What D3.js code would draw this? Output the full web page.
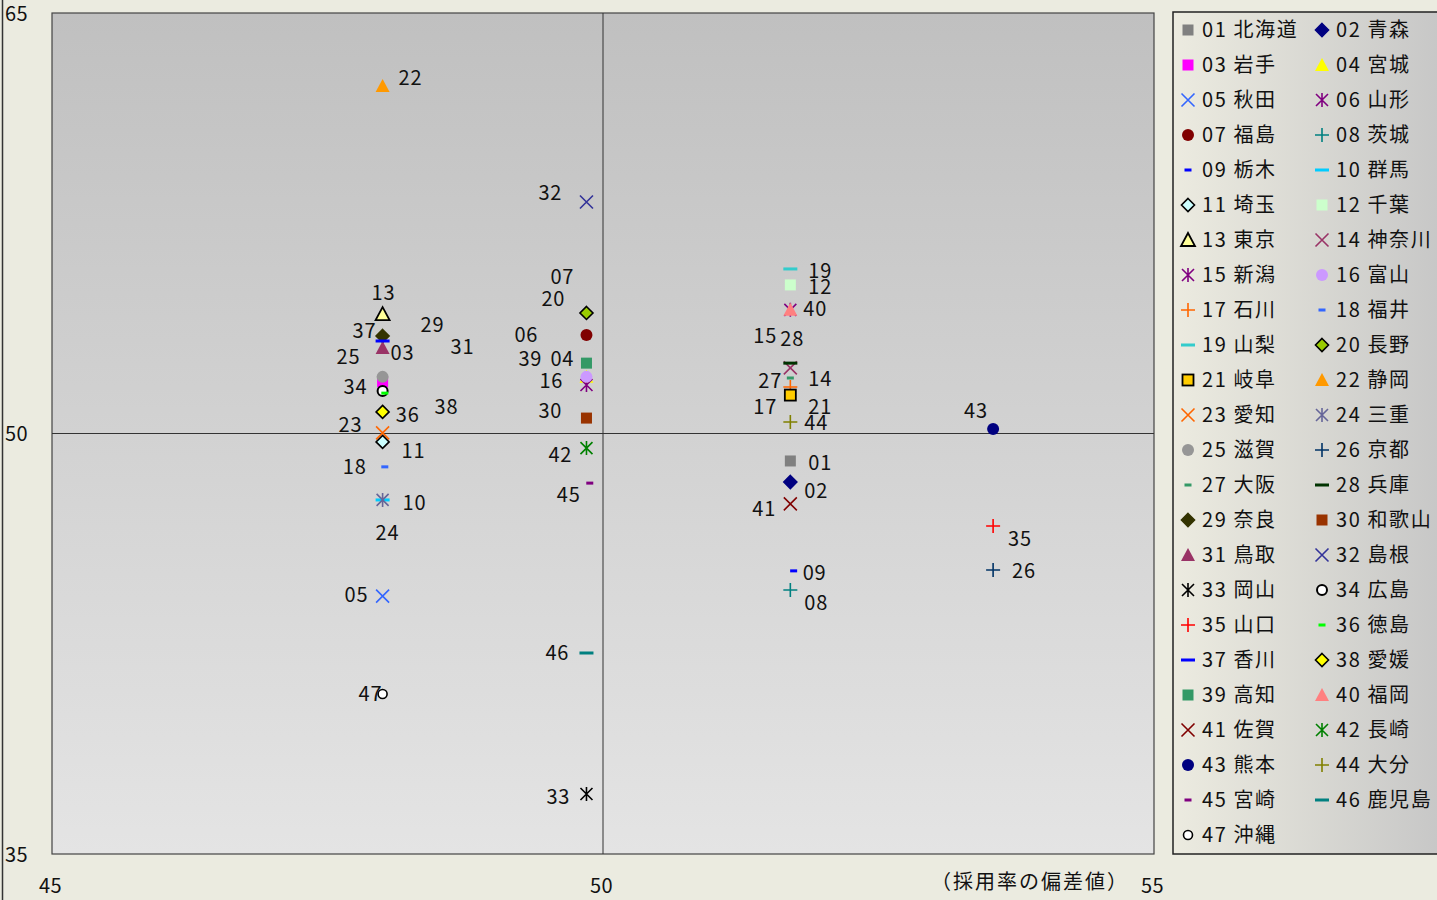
<!DOCTYPE html>
<html><head><meta charset="utf-8">
<script src="https://cdn.jsdelivr.net/npm/d3@7"></script>
<style>
html,body{margin:0;padding:0;background:#ebebe0;}
svg{display:block;font-family:"Noto Sans CJK JP","Noto Sans",sans-serif;}
</style></head>
<body>
<svg id="chart" width="1437" height="900"></svg>
<script>
// ---- data ----
const prefCodes = ["01","02","03","04","05","06","07","08","09","10","11","12","13","14","15","16","17","18","19","20","21","22","23","24","25","26","27","28","29","30","31","32","33","34","35","36","37","38","39","40","41","42","43","44","45","46","47"];
const prefNames = ["北海道","青森","岩手","宮城","秋田","山形","福島","茨城","栃木","群馬","埼玉","千葉","東京","神奈川","新潟","富山","石川","福井","山梨","長野","岐阜","静岡","愛知","三重","滋賀","京都","大阪","兵庫","奈良","和歌山","鳥取","島根","岡山","広島","山口","徳島","香川","愛媛","高知","福岡","佐賀","長崎","熊本","大分","宮崎","鹿児島","沖縄"];
const xValues = [51.70,51.70,48.00,49.85,48.00,49.85,49.85,51.70,51.73,48.00,48.00,51.70,48.00,51.70,51.70,49.85,51.70,48.02,51.70,49.85,51.70,48.00,48.00,48.00,48.00,53.54,51.70,51.70,48.00,49.85,48.00,49.85,49.85,48.00,53.54,48.02,48.00,48.00,49.85,51.70,51.70,49.85,53.54,51.70,49.88,49.85,48.00];
const yValues = [49.02,48.27,51.84,52.02,44.20,51.73,53.51,44.42,45.10,47.63,49.70,55.30,54.26,52.34,54.41,52.02,51.66,48.81,55.87,54.30,51.37,62.40,50.02,47.63,52.02,45.13,51.98,52.51,53.48,50.55,53.05,58.26,37.14,51.52,46.70,51.44,53.30,50.77,52.51,54.41,47.49,49.48,50.16,50.41,48.23,42.17,40.71];
const xTicks = [45,50,55];
const yTicks = [35,50,65];
const xTitle = "（採用率の偏差値）";

// ---- styles (marker type, fill, stroke) ----
const markerStyles = [
 ["square","#808080",null],["diamond","#000080","#000080"],["square","#ff00ff",null],["triangle","#ffff00",null],
 ["x",null,"#3366ff"],["star",null,"#800080"],["circle","#800000",null],["plus",null,"#008080"],
 ["dash","#0000ff",null],["longdash","#00ccff",null],["diamond","#ccffff","#000"],["square","#ccffcc",null],
 ["triangle","#ffff99","#000"],["x",null,"#993366"],["star",null,"#800080"],["circle","#cc99ff",null],
 ["plus",null,"#ff6600"],["dash","#3366ff",null],["longdash","#33cccc",null],["diamond","#99cc00","#000"],
 ["square","#ffcc00","#000"],["triangle","#ff9900",null],["x",null,"#ff6600"],["star",null,"#666699"],
 ["circle","#969696",null],["plus",null,"#003366"],["dash","#339966",null],["longdash","#003300",null],
 ["diamond","#333300","#333300"],["square","#993300",null],["triangle","#993366",null],["x",null,"#333399"],
 ["star",null,"#000000"],["circle","#ffffff","#000"],["plus",null,"#ff0000"],["dash","#00ff00",null],
 ["longdash","#0000ff",null],["diamond","#ffff00","#000"],["square","#339966",null],["triangle","#ff8080",null],
 ["x",null,"#800000"],["star",null,"#008000"],["circle","#000080",null],["plus",null,"#808000"],
 ["dash","#800080",null],["longdash","#008080",null],["smallcircle","#ffffff","#000"]
];
// label offsets: [dx to text left, dy to text centre]
const labelOffsets = [
 [18,2],[14,9],[8,-29],[-36,-18],[-38,-1],[-72,-50],[-36,-58],[14,13],[9,2],[20,3],
 [19,9],[18,2],[-11,-21],[18,11],[-37,26],[-47,4],[-37,20],[-42,0],[18,2],[-45,-14],
 [18,12],[16,-8],[-44,-8],[-7,33],[-46,-20],[19,1],[-32,3],[-10,-24],[38,-11],[-48,-7],
 [68,-1],[-48,-9],[-40,3],[-39,-4],[15,13],[11,22],[-30,-10],[52,-5],[-68,-4],[13,-1],
 [-38,5],[-38,7],[-29,-18],[14,1],[-33,12],[-41,0],[-24,0]
];

const svg = d3.select("#chart");
const M = {left:52, right:1154, top:13, bottom:854};
const x = d3.scaleLinear().domain([45,55]).range([M.left,M.right]);
const y = d3.scaleLinear().domain([35,65]).range([M.bottom,M.top]);

const defs = svg.append("defs");
const pg = defs.append("linearGradient").attr("id","plotbg").attr("x1",0).attr("y1",0).attr("x2",0).attr("y2",1);
pg.append("stop").attr("offset","0%").attr("stop-color","#c0c0c0");
pg.append("stop").attr("offset","100%").attr("stop-color","#e4e4e4");
const lg = defs.append("linearGradient").attr("id","legbg").attr("x1",0).attr("y1",0).attr("x2",1).attr("y2",0);
lg.append("stop").attr("offset","0%").attr("stop-color","#ecebe0");
lg.append("stop").attr("offset","100%").attr("stop-color","#c6c6c6");

// outer border left
svg.append("line").attr("x1",2.5).attr("x2",2.5).attr("y1",0).attr("y2",900).attr("stroke","#333").attr("stroke-width",1.5);

// plot area
svg.append("rect").attr("x",M.left).attr("y",M.top).attr("width",M.right-M.left).attr("height",M.bottom-M.top)
  .attr("fill","url(#plotbg)").attr("stroke","#444").attr("stroke-width",1.2);

// crossing lines at 50
svg.append("line").attr("x1",x(50)).attr("x2",x(50)).attr("y1",M.top).attr("y2",M.bottom).attr("stroke","#333").attr("stroke-width",1);
svg.append("line").attr("x1",M.left).attr("x2",M.right).attr("y1",y(50)).attr("y2",y(50)).attr("stroke","#333").attr("stroke-width",1);

// axes
const xAxis = svg.append("g").attr("transform",`translate(0,${M.bottom})`)
  .call(d3.axisBottom(x).tickValues(xTicks).tickSize(0).tickPadding(0));
xAxis.select(".domain").remove();
xAxis.selectAll("text").attr("font-size",20).attr("fill","#111").attr("x",-2).attr("y",32).attr("dy","0.35em")
  .attr("letter-spacing",0.5).attr("font-family","'Noto Sans CJK JP',sans-serif");
const yAxis = svg.append("g").attr("transform",`translate(${M.left},0)`)
  .call(d3.axisLeft(y).tickValues(yTicks).tickSize(0));
yAxis.select(".domain").remove();
yAxis.selectAll("text").attr("font-size",20).attr("fill","#111").attr("text-anchor","start").attr("x",5-M.left).attr("dy","0.35em")
  .attr("letter-spacing",0.5).attr("font-family","'Noto Sans CJK JP',sans-serif");

svg.append("text").attr("x",1030).attr("y",882).attr("dy","0.35em").attr("text-anchor","middle")
  .attr("font-size",20).attr("letter-spacing",2).attr("fill","#111").text(xTitle);

function drawMarker(g, st){
  const [type, fill, stroke] = st;
  if(type==="square"){
    g.append("rect").attr("x",-5.5).attr("y",-5.5).attr("width",11).attr("height",11).attr("fill",fill)
     .attr("stroke",stroke||"none").attr("stroke-width",stroke?1.8:0);
  } else if(type==="diamond"){
    g.append("path").attr("d","M0,-6.5L6.5,0L0,6.5L-6.5,0Z").attr("fill",fill).attr("stroke",stroke).attr("stroke-width",1.6);
  } else if(type==="triangle"){
    g.append("path").attr("d","M0,-7L7,6L-7,6Z").attr("fill",fill).attr("stroke",stroke||"none").attr("stroke-width",stroke?1.8:0);
  } else if(type==="circle"){
    if(stroke) g.append("circle").attr("r",5).attr("fill",fill).attr("stroke",stroke).attr("stroke-width",2);
    else g.append("circle").attr("r",6).attr("fill",fill);
  } else if(type==="smallcircle"){
    g.append("circle").attr("r",4.5).attr("fill",fill).attr("stroke",stroke).attr("stroke-width",1.6);
  } else if(type==="x"){
    g.append("path").attr("d","M-6.5,-6.5L6.5,6.5M-6.5,6.5L6.5,-6.5").attr("stroke",stroke).attr("stroke-width",1.6).attr("fill","none");
  } else if(type==="star"){
    g.append("path").attr("d","M-6,-6L6,6M-6,6L6,-6M0,-7L0,7").attr("stroke",stroke).attr("stroke-width",1.6).attr("fill","none");
  } else if(type==="plus"){
    g.append("path").attr("d","M-7,0L7,0M0,-7L0,7").attr("stroke",stroke).attr("stroke-width",1.6).attr("fill","none");
  } else if(type==="dash"){
    g.append("rect").attr("x",-3.5).attr("y",-1.5).attr("width",7).attr("height",3).attr("fill",fill);
  } else if(type==="longdash"){
    g.append("rect").attr("x",-7).attr("y",-1.5).attr("width",14).attr("height",3).attr("fill",fill);
  }
}

// points
const pts = prefCodes.map((c,i)=>({code:c,name:prefNames[i],x:xValues[i],y:yValues[i],i}));
const pg2 = svg.append("g");
pts.forEach(d=>{
  const g = pg2.append("g").attr("transform",`translate(${x(d.x)},${y(d.y)})`);
  drawMarker(g, markerStyles[d.i]);
});
// labels
svg.append("g").selectAll("text").data(pts).join("text")
  .attr("x",d=>x(d.x)+labelOffsets[d.i][0]).attr("y",d=>y(d.y)+labelOffsets[d.i][1]).attr("dy","0.35em")
  .attr("font-size",20).attr("fill","#111").attr("letter-spacing",0.8).text(d=>d.code);

// legend
svg.append("rect").attr("x",1173).attr("y",12).attr("width",275).attr("height",842)
  .attr("fill","url(#legbg)").attr("stroke","#222").attr("stroke-width",1.5);
const leg = svg.append("g");
pts.forEach(d=>{
  const col = d.i%2, row = Math.floor(d.i/2);
  const lx = col===0?1188:1322, ly = 30+row*35;
  const g = leg.append("g").attr("transform",`translate(${lx},${ly})`);
  drawMarker(g, markerStyles[d.i]);
  leg.append("text").attr("x",lx+14).attr("y",ly).attr("dy","0.35em").attr("font-size",20).attr("fill","#111")
    .attr("letter-spacing",1.6).text(d.code+" "+d.name);
});
</script>
</body></html>
